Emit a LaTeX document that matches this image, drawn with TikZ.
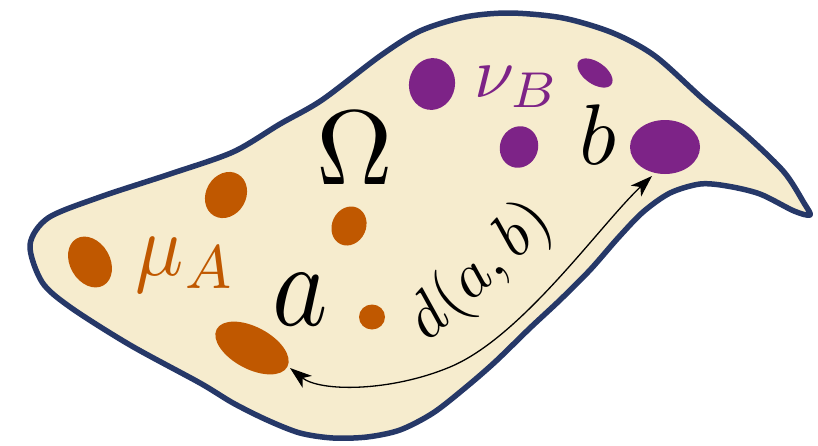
\documentclass[tikz,border=0pt]{standalone}
\usetikzlibrary{arrows.meta}
\definecolor{cream}{RGB}{246,236,206}
\definecolor{navy}{RGB}{38,56,104}
\definecolor{rust}{RGB}{192,88,0}
\definecolor{plum}{RGB}{125,35,135}
\begin{document}
\begin{tikzpicture}[x=1pt,y=-1pt,
  blobA/.style={fill=rust},
  blobB/.style={fill=plum},
  lbl/.style={inner sep=0pt},
  tipstyle/.style={line width=1.3pt,{Stealth[length=22pt,width=15pt,inset=6pt]}-{Stealth[length=22pt,width=15pt,inset=6pt]}}]
\useasboundingbox (0,0) rectangle (818,445);
% surface
\draw[navy, line width=5.5pt, fill=cream, line join=round]
  plot[smooth cycle, tension=0.5] coordinates {
  (30,245) (48,218) (100,197) (170,174) (233,152) (280,124) (322,100) (380,56)
  (420,31) (465,17) (510,13) (563,18) (613,33) (655,56) (703,99) (747,136)
  (784,172) (804,203) (810,215) (794,211) (760,194) (727,186) (700,184) (670,193)
  (643,212) (618,238) (590,270) (560,300) (530,328) (495,362) (465,388) (433,413)
  (400,430) (367,437) (333,438) (300,433) (267,420) (233,403) (200,383) (130,345)
  (70,307) (42,282)};
% orange blobs
\fill[blobA, rotate around={30:(90,262)}] (90,262) ellipse [x radius=20pt, y radius=27pt];
\fill[blobA, rotate around={-30:(226,195)}] (226,195) ellipse [x radius=20pt, y radius=24pt];
\fill[blobA, rotate around={-25:(349,226)}] (349,226) ellipse [x radius=17pt, y radius=20pt];
\fill[blobA] (372,317) ellipse [x radius=13pt, y radius=12.5pt];
\fill[blobA, rotate around={-28:(252,348)}] (252,348) ellipse [x radius=40pt, y radius=21pt];
% purple blobs
\fill[blobB, rotate around={-10:(432,84)}] (432,84) ellipse [x radius=23pt, y radius=26pt];
\fill[blobB, rotate around={-35:(595,73)}] (595,73) ellipse [x radius=20pt, y radius=11pt];
\fill[blobB, rotate around={-20:(519,147)}] (519,147) ellipse [x radius=19pt, y radius=21pt];
\fill[blobB] (665,147) ellipse [x radius=35pt, y radius=27pt];
% distance arrow
\coordinate (aend) at (290,368);
\coordinate (bend) at (652,176);
\draw[tipstyle] (aend) .. controls (320,392) and (390,392) .. (450,367)
  .. controls (522,337) and (600,225) .. (bend);
\node[lbl, rotate=43] (dist) at (481,272) {\scalebox{6.4}{$d(a,b)$}};
% labels
\node[lbl] (om) at (355,148) {\scalebox{10.6}{$\Omega$}};
\node[lbl, text=rust] (mu) at (186,265) {\scalebox{8}[8.8]{$\mu_A$}};
\node[lbl] (la) at (300,300) {\scalebox{10.5}[12]{$a$}};
\node[lbl] (lb) at (598,135) {\scalebox{8.6}{$b$}};
\node[lbl, text=plum] (nu) at (517,87) {\scalebox{7.2}{$\nu_B$}};
\end{tikzpicture}
\end{document}
